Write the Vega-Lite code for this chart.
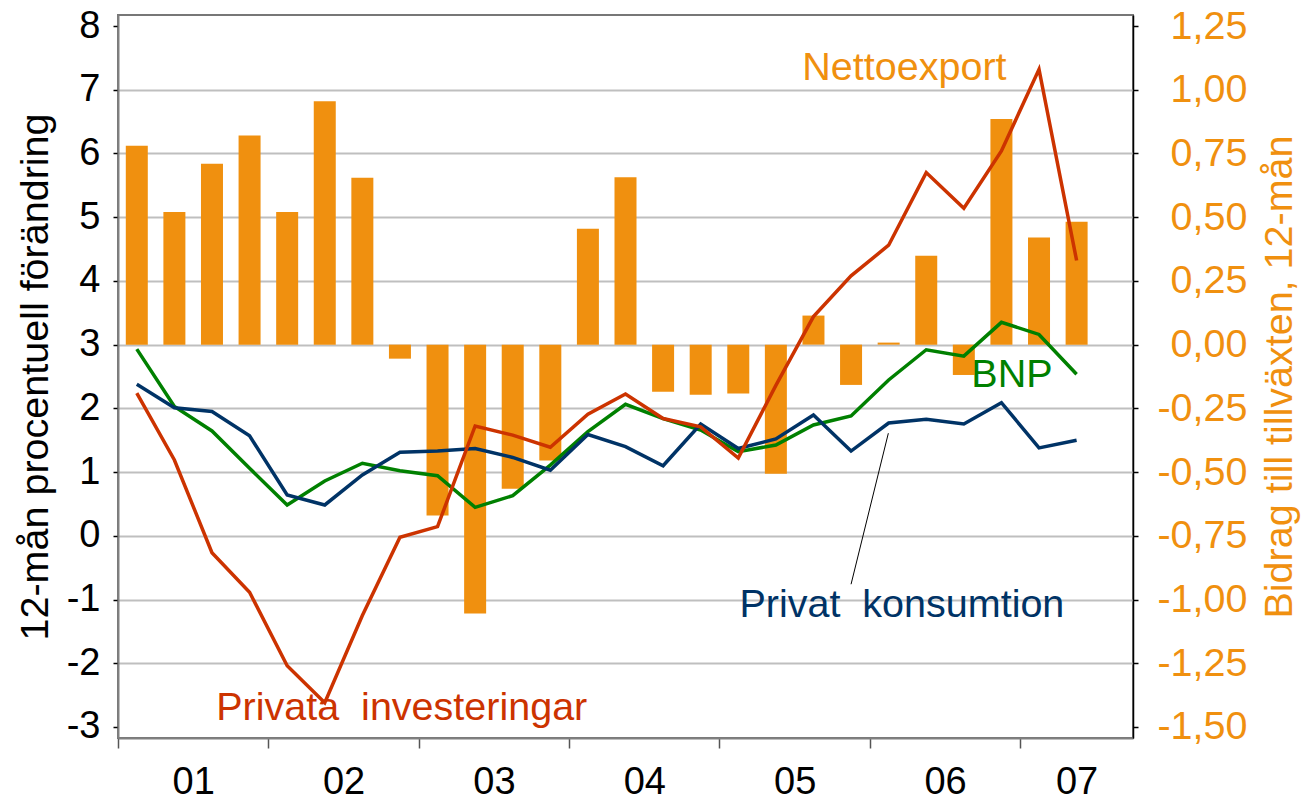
{
  "$schema": "https://vega.github.io/schema/vega-lite/v6.json",
  "width": 1015,
  "height": 723,
  "autosize": {"type": "none"},
  "padding": {"left": 118, "top": 15, "right": 169, "bottom": 64},
  "background": "white",
  "config": {"view": {"stroke": "#777777", "strokeWidth": 2}, "font": "Liberation Sans"},
  "datasets": {
    "bars": [
      {"t": 2001.125, "n": 0.78}, {"t": 2001.375, "n": 0.52}, {"t": 2001.625, "n": 0.71}, {"t": 2001.875, "n": 0.82},
      {"t": 2002.125, "n": 0.52}, {"t": 2002.375, "n": 0.955}, {"t": 2002.625, "n": 0.655}, {"t": 2002.875, "n": -0.055},
      {"t": 2003.125, "n": -0.67}, {"t": 2003.375, "n": -1.055}, {"t": 2003.625, "n": -0.565}, {"t": 2003.875, "n": -0.455},
      {"t": 2004.125, "n": 0.455}, {"t": 2004.375, "n": 0.657}, {"t": 2004.625, "n": -0.185}, {"t": 2004.875, "n": -0.197},
      {"t": 2005.125, "n": -0.192}, {"t": 2005.375, "n": -0.507}, {"t": 2005.625, "n": 0.114}, {"t": 2005.875, "n": -0.158},
      {"t": 2006.125, "n": 0.008}, {"t": 2006.375, "n": 0.349}, {"t": 2006.625, "n": -0.119}, {"t": 2006.875, "n": 0.885},
      {"t": 2007.125, "n": 0.42}, {"t": 2007.375, "n": 0.482}
    ],
    "lines": [
      {"t": 2001.125, "series": "BNP", "v": 2.93}, {"t": 2001.125, "series": "Privat konsumtion", "v": 2.38}, {"t": 2001.125, "series": "Privata investeringar", "v": 2.24},
      {"t": 2001.375, "series": "BNP", "v": 2.03}, {"t": 2001.375, "series": "Privat konsumtion", "v": 2.01}, {"t": 2001.375, "series": "Privata investeringar", "v": 1.19},
      {"t": 2001.625, "series": "BNP", "v": 1.645}, {"t": 2001.625, "series": "Privat konsumtion", "v": 1.95}, {"t": 2001.625, "series": "Privata investeringar", "v": -0.265},
      {"t": 2001.875, "series": "BNP", "v": 1.06}, {"t": 2001.875, "series": "Privat konsumtion", "v": 1.57}, {"t": 2001.875, "series": "Privata investeringar", "v": -0.886},
      {"t": 2002.125, "series": "BNP", "v": 0.484}, {"t": 2002.125, "series": "Privat konsumtion", "v": 0.64}, {"t": 2002.125, "series": "Privata investeringar", "v": -2.04},
      {"t": 2002.375, "series": "BNP", "v": 0.86}, {"t": 2002.375, "series": "Privat konsumtion", "v": 0.484}, {"t": 2002.375, "series": "Privata investeringar", "v": -2.62},
      {"t": 2002.625, "series": "BNP", "v": 1.138}, {"t": 2002.625, "series": "Privat konsumtion", "v": 0.955}, {"t": 2002.625, "series": "Privata investeringar", "v": -1.25},
      {"t": 2002.875, "series": "BNP", "v": 1.02}, {"t": 2002.875, "series": "Privat konsumtion", "v": 1.31}, {"t": 2002.875, "series": "Privata investeringar", "v": -0.023},
      {"t": 2003.125, "series": "BNP", "v": 0.944}, {"t": 2003.125, "series": "Privat konsumtion", "v": 1.33}, {"t": 2003.125, "series": "Privata investeringar", "v": 0.144},
      {"t": 2003.375, "series": "BNP", "v": 0.447}, {"t": 2003.375, "series": "Privat konsumtion", "v": 1.37}, {"t": 2003.375, "series": "Privata investeringar", "v": 1.724},
      {"t": 2003.625, "series": "BNP", "v": 0.63}, {"t": 2003.625, "series": "Privat konsumtion", "v": 1.23}, {"t": 2003.625, "series": "Privata investeringar", "v": 1.58},
      {"t": 2003.875, "series": "BNP", "v": 1.11}, {"t": 2003.875, "series": "Privat konsumtion", "v": 1.03}, {"t": 2003.875, "series": "Privata investeringar", "v": 1.39},
      {"t": 2004.125, "series": "BNP", "v": 1.634}, {"t": 2004.125, "series": "Privat konsumtion", "v": 1.59}, {"t": 2004.125, "series": "Privata investeringar", "v": 1.907},
      {"t": 2004.375, "series": "BNP", "v": 2.064}, {"t": 2004.375, "series": "Privat konsumtion", "v": 1.40}, {"t": 2004.375, "series": "Privata investeringar", "v": 2.225},
      {"t": 2004.625, "series": "BNP", "v": 1.84}, {"t": 2004.625, "series": "Privat konsumtion", "v": 1.10}, {"t": 2004.625, "series": "Privata investeringar", "v": 1.84},
      {"t": 2004.875, "series": "BNP", "v": 1.66}, {"t": 2004.875, "series": "Privat konsumtion", "v": 1.755}, {"t": 2004.875, "series": "Privata investeringar", "v": 1.71},
      {"t": 2005.125, "series": "BNP", "v": 1.32}, {"t": 2005.125, "series": "Privat konsumtion", "v": 1.37}, {"t": 2005.125, "series": "Privata investeringar", "v": 1.22},
      {"t": 2005.375, "series": "BNP", "v": 1.425}, {"t": 2005.375, "series": "Privat konsumtion", "v": 1.52}, {"t": 2005.375, "series": "Privata investeringar", "v": 2.36},
      {"t": 2005.625, "series": "BNP", "v": 1.74}, {"t": 2005.625, "series": "Privat konsumtion", "v": 1.896}, {"t": 2005.625, "series": "Privata investeringar", "v": 3.44},
      {"t": 2005.875, "series": "BNP", "v": 1.88}, {"t": 2005.875, "series": "Privat konsumtion", "v": 1.33}, {"t": 2005.875, "series": "Privata investeringar", "v": 4.08},
      {"t": 2006.125, "series": "BNP", "v": 2.445}, {"t": 2006.125, "series": "Privat konsumtion", "v": 1.77}, {"t": 2006.125, "series": "Privata investeringar", "v": 4.56},
      {"t": 2006.375, "series": "BNP", "v": 2.92}, {"t": 2006.375, "series": "Privat konsumtion", "v": 1.83}, {"t": 2006.375, "series": "Privata investeringar", "v": 5.70},
      {"t": 2006.625, "series": "BNP", "v": 2.82}, {"t": 2006.625, "series": "Privat konsumtion", "v": 1.755}, {"t": 2006.625, "series": "Privata investeringar", "v": 5.14},
      {"t": 2006.875, "series": "BNP", "v": 3.35}, {"t": 2006.875, "series": "Privat konsumtion", "v": 2.09}, {"t": 2006.875, "series": "Privata investeringar", "v": 6.04},
      {"t": 2007.125, "series": "BNP", "v": 3.16}, {"t": 2007.125, "series": "Privat konsumtion", "v": 1.38}, {"t": 2007.125, "series": "Privata investeringar", "v": 7.32},
      {"t": 2007.375, "series": "BNP", "v": 2.535}, {"t": 2007.375, "series": "Privat konsumtion", "v": 1.50}, {"t": 2007.375, "series": "Privata investeringar", "v": 4.32}
    ],
    "labels": [
      {"t": 2006.23, "v": 7.15, "series": "Nettoexport", "label": "Nettoexport"},
      {"t": 2006.945, "v": 2.335, "series": "BNP", "label": "BNP"},
      {"t": 2006.213, "v": -1.27, "series": "Privat konsumtion", "label": "Privat\u00a0 konsumtion"},
      {"t": 2002.887, "v": -2.89, "series": "Privata investeringar", "label": "Privata\u00a0 investeringar"}
    ],
    "leader": [
      {"t": 2005.875, "v": -0.76, "t2": 2006.123, "v2": 1.61}
    ]
  },
  "encoding": {
    "x": {
      "field": "t",
      "type": "quantitative",
      "scale": {"domain": [2001, 2007.75], "nice": false, "zero": false, "padding": 0},
      "axis": {
        "values": [2001, 2001.5, 2002, 2002.5, 2003, 2003.5, 2004, 2004.5, 2005, 2005.5, 2006, 2006.5, 2007, 2007.375],
        "labelExpr": "datum.value % 1 == 0 ? '' : (datum.value > 2007 ? '07' : '0' + floor(datum.value - 2000))",
        "tickOpacity": {"condition": {"test": "datum.value % 1 != 0", "value": 0}, "value": 1},
        "tickSize": 10,
        "tickColor": "#555555",
        "tickWidth": 1.5,
        "domainColor": "#808080",
        "domainWidth": 2,
        "labelFontSize": 38,
        "labelColor": "#000000",
        "labelPadding": 15,
        "labelFlush": false,
        "labelOverlap": false,
        "grid": false,
        "title": null
      }
    }
  },
  "layer": [
    {
      "data": {"name": "bars"},
      "mark": {"type": "bar", "size": 22, "color": "#F0900F"},
      "encoding": {
        "y": {
          "field": "n",
          "type": "quantitative",
          "scale": {"domain": [-1.5432, 1.2932], "nice": false, "zero": false, "padding": 0},
          "axis": {
            "orient": "right",
            "values": [-1.5, -1.25, -1, -0.75, -0.5, -0.25, 0, 0.25, 0.5, 0.75, 1, 1.25],
            "labelExpr": "(datum.value < 0 ? '-' : '') + replace(format(abs(datum.value), '.2f'), '.', ',')",
            "labelColor": "#F0900F",
            "labelFontSize": 39.5,
            "labelAlign": "right",
            "labelPadding": 109,
            "labelOverlap": false,
            "tickSize": 5,
            "tickColor": "#000000",
            "tickWidth": 1.5,
            "domainColor": "#000000",
            "domainWidth": 1.5,
            "grid": false,
            "title": "Bidrag till tillväxten, 12-mån",
            "titleColor": "#F0900F",
            "titleFontSize": 39.5,
            "titleFontWeight": "normal",
            "titleAngle": -90,
            "titleBaseline": "top",
            "titlePadding": 13
          }
        },
        "y2": {"datum": 0}
      }
    },
    {
      "encoding": {
        "y": {
          "field": "v",
          "type": "quantitative",
          "scale": {"domain": [-3.173, 8.173], "nice": false, "zero": false, "padding": 0},
          "axis": {
            "orient": "left",
            "values": [-3, -2, -1, 0, 1, 2, 3, 4, 5, 6, 7, 8],
            "labelExpr": "(datum.value < 0 ? '-' : '') + abs(datum.value)",
            "labelFontSize": 38,
            "labelColor": "#000000",
            "labelPadding": 13,
            "labelOverlap": false,
            "tickSize": 5,
            "tickColor": "#000000",
            "tickWidth": 1.5,
            "domainColor": "#808080",
            "domainWidth": 2,
            "grid": true,
            "gridColor": "#BFBFBF",
            "gridWidth": 2,
            "gridOpacity": {"condition": {"test": "datum.value > 7.5 || datum.value < -2.5", "value": 0}, "value": 1},
            "title": "12-mån procentuell förändring",
            "titleColor": "#000000",
            "titleFontSize": 39.5,
            "titleFontWeight": "normal",
            "titlePadding": 11
          }
        }
      },
      "layer": [
        {
          "data": {"name": "lines"},
          "mark": {"type": "line", "strokeWidth": 3.5},
          "encoding": {
            "color": {
              "field": "series",
              "type": "nominal",
              "scale": {"domain": ["BNP", "Privat konsumtion", "Privata investeringar", "Nettoexport"], "range": ["#008000", "#003366", "#CC3300", "#F0900F"]},
              "legend": null
            }
          }
        },
        {
          "data": {"name": "labels"},
          "mark": {"type": "text", "fontSize": 39.5, "align": "center", "baseline": "alphabetic"},
          "encoding": {
            "text": {"field": "label"},
            "color": {"field": "series", "type": "nominal", "legend": null}
          }
        },
        {
          "data": {"name": "leader"},
          "mark": {"type": "rule", "color": "#000000", "strokeWidth": 1},
          "encoding": {
            "x2": {"field": "t2"},
            "y2": {"field": "v2"}
          }
        }
      ]
    }
  ],
  "resolve": {"scale": {"y": "independent"}}
}
